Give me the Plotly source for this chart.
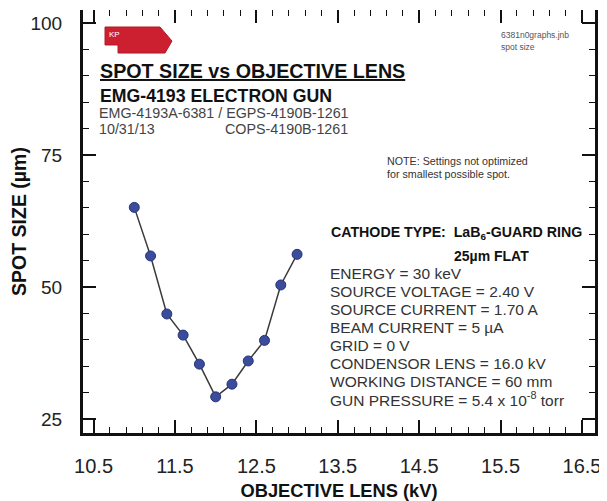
import plotly.graph_objects as go

# ---- data ----
objective_lens_kv = [11.0, 11.2, 11.4, 11.6, 11.8, 12.0, 12.2, 12.4, 12.6, 12.8, 13.0]
spot_size_um = [65.1, 55.9, 44.9, 40.9, 35.4, 29.2, 31.6, 36.0, 39.9, 50.4, 56.2]
x_tick_vals = [10.5, 11.5, 12.5, 13.5, 14.5, 15.5, 16.5]
y_tick_vals = [25, 50, 75, 100]

settings_lines = [
    "ENERGY = 30 keV",
    "SOURCE VOLTAGE = 2.40 V",
    "SOURCE CURRENT = 1.70 A",
    "BEAM CURRENT = 5 µA",
    "GRID = 0 V",
    "CONDENSOR LENS = 16.0 kV",
    "WORKING DISTANCE = 60 mm",
    "GUN PRESSURE = 5.4 x 10<sup>-8</sup> torr",
]

FONT = "Arial, Liberation Sans, sans-serif"
PAGE_W, PAGE_H = 607, 501
OFF = 8  # default page body margin
W, H = PAGE_W - OFF, PAGE_H - OFF
L, R, T, B = 83, 595, 10, 433  # plot frame in screen pixels


def px(x):
    return (x - L) / (R - L)


def py(y):
    return (B - y) / (B - T)


fig = go.Figure()
fig.add_trace(go.Scatter(
    x=objective_lens_kv, y=spot_size_um, mode="lines+markers",
    line=dict(color="#3a3a3a", width=1.5),
    marker=dict(size=10, color="#3b4c9c", line=dict(color="#28347a", width=1)),
    showlegend=False, hoverinfo="x+y",
))
# empty trace so the top (tick-only) axis is created
fig.add_trace(go.Scatter(x=[], y=[], xaxis="x2", showlegend=False, hoverinfo="skip"))

annotations = []


def note(x, y, text, size, bold=False, color="#333333"):
    annotations.append(dict(
        x=px(x), y=py(y), xref="paper", yref="paper", xanchor="left", yanchor="middle",
        text=f"<b>{text}</b>" if bold else text, showarrow=False,
        font=dict(family=FONT, size=size, color=color),
    ))


note(98, 71, "<u>SPOT SIZE vs OBJECTIVE LENS</u>", 19.7, bold=True, color="#111111")
note(98, 96, "EMG-4193 ELECTRON GUN", 17.7, bold=True, color="#111111")
note(97, 113, "EMG-4193A-6381 / EGPS-4190B-1261", 14.3, color="#444444")
note(97, 129, "10/31/13", 14.3, color="#444444")
note(223, 129, "COPS-4190B-1261", 14.3, color="#444444")
note(499, 35, "6381n0graphs.jnb", 8.5, color="#555555")
note(499, 47, "spot size", 8.5, color="#555555")
note(385, 161, "NOTE: Settings not optimized", 10.7, color="#333333")
note(385, 174, "for smallest possible spot.", 10.7, color="#333333")
note(329, 233, "CATHODE TYPE:  LaB<sub>6</sub>-GUARD RING", 14.2, bold=True, color="#111111")
note(452, 256, "25µm FLAT", 14.0, bold=True, color="#111111")
for i, line in enumerate(settings_lines):
    note(328, 273 + 18 * i, line, 15.5, color="#333333")

# KP tag
annotations.append(dict(
    x=px(107), y=py(35), xref="paper", yref="paper", xanchor="left", yanchor="middle",
    text="KP", showarrow=False, font=dict(family=FONT, size=8, color="white"),
))

tag_pts = [(105, 27), (160, 27), (172, 41), (165, 53), (118, 53), (118, 45), (105, 45)]
path = "M " + " L ".join(f"{px(a):.4f},{py(b):.4f}" for a, b in tag_pts) + " Z"

axis_common = dict(
    showgrid=False, zeroline=False, ticks="inside", ticklen=13, tickwidth=1.5,
    tickcolor="#111111", automargin=False,
)

fig.update_layout(
    width=W, height=H,
    margin=dict(l=L - OFF, r=PAGE_W - R, t=T - OFF, b=PAGE_H - B, autoexpand=False),
    paper_bgcolor="white", plot_bgcolor="white",
    font=dict(family=FONT, color="#222222"),
    xaxis=dict(
        **axis_common, range=[10.37, 16.66], tickvals=x_tick_vals, tickformat=".1f",
        showline=True, linewidth=3, linecolor="#111111", mirror=False,
        tickfont=dict(size=20, color="#222222"), ticklabelstandoff=13,
        minor=dict(tick0=10.5, dtick=0.2, ticks="inside", ticklen=6, tickwidth=1.2, tickcolor="#111111"),
        title=dict(text="<b>OBJECTIVE LENS (kV)</b>", font=dict(size=18.3, color="#111111"), standoff=11),
    ),
    xaxis2=dict(
        **axis_common, overlaying="x", side="top", matches="x", anchor="y",
        tickvals=x_tick_vals, showticklabels=False, showline=False,
        minor=dict(tick0=10.5, dtick=0.2, ticks="inside", ticklen=6, tickwidth=1.2, tickcolor="#111111"),
    ),
    yaxis=dict(
        **axis_common, range=[22.35, 102.5], tickvals=y_tick_vals,
        showline=True, linewidth=3, linecolor="#111111", mirror="ticks",
        tickfont=dict(size=19, color="#222222"), ticklabelstandoff=14,
        minor=dict(tick0=25, dtick=5, ticks="inside", ticklen=6, tickwidth=1.2, tickcolor="#111111"),
        title=dict(text="<b>SPOT SIZE (µm)</b>", font=dict(size=19.5, color="#111111"), standoff=5),
    ),
    annotations=annotations,
    shapes=[dict(type="path", path=path, xref="paper", yref="paper",
                 fillcolor="#cc1f2f", line=dict(color="#b01a28", width=1), layer="above")],
)

fig.write_html("out.html")
